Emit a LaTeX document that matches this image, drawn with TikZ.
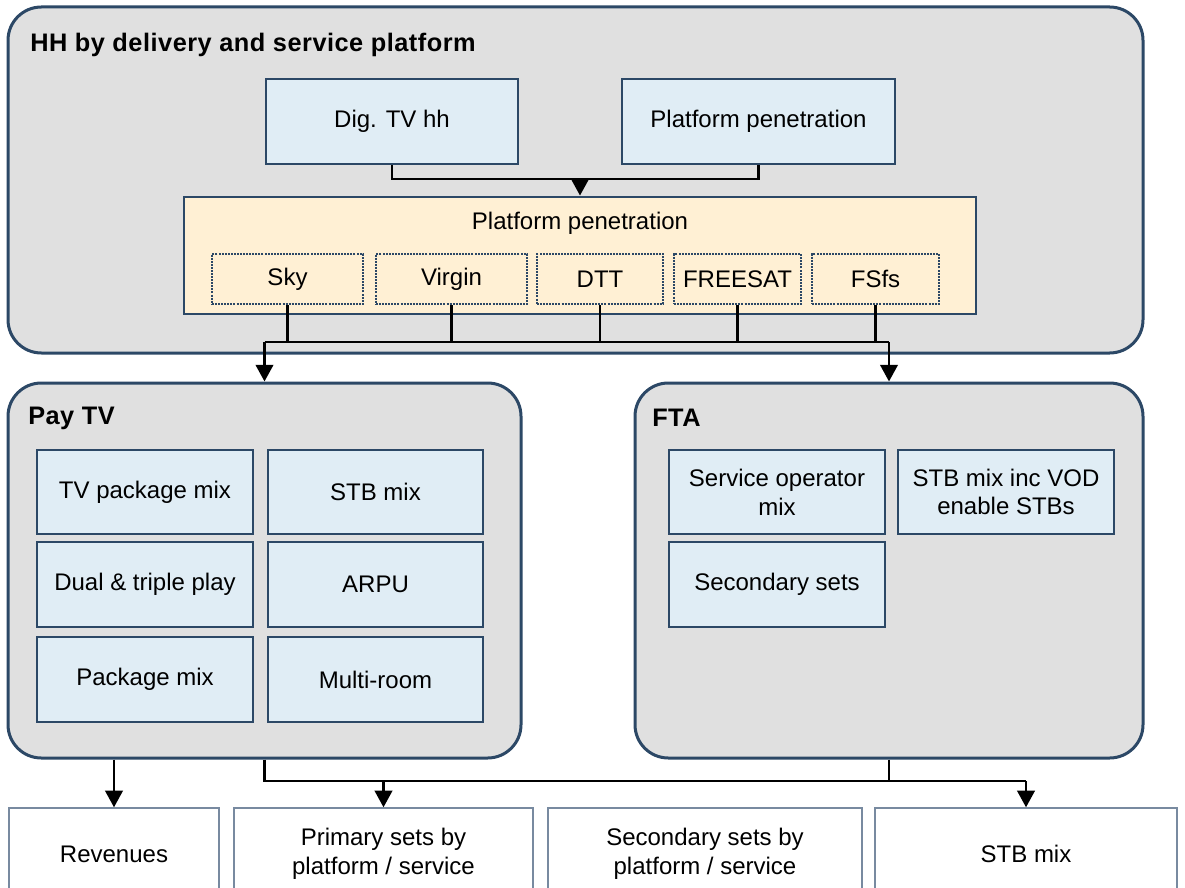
\documentclass[tikz,border=0pt]{standalone}
\usepackage{fontspec}
\setmainfont{Liberation Sans}
\usetikzlibrary{arrows.meta}

\definecolor{panelgray}{RGB}{224,224,224}
\definecolor{edgeblue}{RGB}{44,72,102}
\definecolor{cellblue}{RGB}{224,237,245}
\definecolor{cellpeach}{RGB}{255,240,212}
\definecolor{outgray}{RGB}{120,138,160}

\newcommand\diagbody{\fontsize{18}{21.5}\selectfont}
\newcommand\diaghead{\fontsize{19}{22}\selectfont\bfseries\addfontfeatures{LetterSpace=2}}

\begin{document}
\begin{tikzpicture}[x=0.75pt,y=-0.75pt,
  % a box given by its corners (x1,y1,x2,y2) in pixel units
  span/.style n args={4}{at={({(#1+#3)/2},{(#2+#4)/2})},
    minimum width={(#3-#1)*0.75pt}, minimum height={(#4-#2)*0.75pt}},
  panel/.style={draw=edgeblue, line width=2.25pt, fill=panelgray,
    rounded corners=25pt, inner sep=0pt},
  paneltitle/.style={anchor=west, inner sep=0pt, font=\diaghead},
  cell/.style={draw=edgeblue, line width=2.1pt, fill=cellblue,
    inner sep=0pt, align=center, font=\diagbody},
  peachbox/.style={draw=edgeblue, line width=2.1pt, fill=cellpeach, inner sep=0pt},
  platbox/.style={draw=edgeblue, line width=1.5pt, dash pattern=on 1.5pt off 0.8pt,
    inner sep=0pt, align=center, font=\diagbody},
  outbox/.style={draw=outgray, line width=1pt, fill=white,
    inner sep=0pt, align=center, font=\diagbody},
  link/.style={draw=black, line width=2.2pt},
  arrowlink/.style={link, -{Triangle[width=13pt,length=12.5pt]}},
]
\useasboundingbox (0,0) rectangle (1185,888);

% --- household panel -------------------------------------------------
\node[panel, span={8}{7}{1143}{353}] (hh) {};
\node[paneltitle] (hhtitle) at (30,45) {HH by delivery and service platform};

\node[cell, span={266}{79}{518}{164}] (dig) {Dig. TV hh};
\node[cell, span={622}{79}{895}{164}] (pen) {Platform penetration};

\node[peachbox, span={184}{197}{976}{314}] (plat) {};
\node[inner sep=0pt, font=\diagbody] (plattitle) at (580,223) {Platform penetration};

\node[platbox, span={212}{254}{363}{304}] (sky) {Sky};
\node[platbox, span={376}{254}{527}{304}] (virgin) {Virgin};
\node[platbox, span={537}{254}{663}{304}] (dtt) {DTT};
\node[platbox, span={674}{254}{801}{304}] (freesat) {FREESAT};
\node[platbox, span={812}{254}{939}{304}] (fsfs) {FSfs};

% --- pay TV panel ------------------------------------------------------
\node[panel, span={8}{383}{521}{758}] (pay) {};
\node[paneltitle] (paytitle) at (28,418) {Pay TV};

\node[cell, span={37}{450}{253}{534}] (pkgmix) {TV package mix};
\node[cell, span={268}{450}{483}{534}] (stbmix) {STB mix};
\node[cell, span={37}{542}{253}{627}] (dual) {Dual \& triple play};
\node[cell, span={268}{542}{483}{627}] (arpu) {ARPU};
\node[cell, span={37}{637}{253}{722}] (package) {Package mix};
\node[cell, span={268}{637}{483}{722}] (multi) {Multi-room};

% --- free-to-air panel ---------------------------------------------------
\node[panel, span={635}{383}{1143}{758}] (fta) {};
\node[paneltitle] (ftatitle) at (652,418) {FTA};

\node[cell, span={669}{450}{885}{534}] (svcop) {Service operator\\mix};
\node[cell, span={898}{450}{1114}{534}] (stbvod) {STB mix inc VOD\\enable STBs};
\node[cell, span={669}{542}{885}{627}] (secsets) {Secondary sets};

% --- outputs -------------------------------------------------------------
\node[outbox, span={9}{808}{219}{900}] (rev) {Revenues};
\node[outbox, span={234}{808}{533}{900}] (prim) {Primary sets by\\platform / service};
\node[outbox, span={548}{808}{862}{900}] (sec) {Secondary sets by\\platform / service};
\node[outbox, span={875}{808}{1177}{900}] (stbout) {STB mix};

% --- connectors ----------------------------------------------------------
\coordinate (topjoin) at (580,179);
\draw[link] (dig.south) |- (topjoin) -| (pen.south);
\draw[arrowlink] (topjoin) -- (plat.north);

\coordinate (busL) at (264.5,342);
\coordinate (busR) at (889,342);
\draw[link] (busL) -- (busR);
\foreach \p in {sky,virgin,dtt,freesat,fsfs}
  \draw[link] (\p.south) -- (\p.south |- busL);
\draw[arrowlink] (busL) -- (pay.north);
\draw[arrowlink] (busR) -- (fta.north);

\draw[arrowlink] (rev.north |- pay.south) -- (rev.north);
\coordinate (lowbus) at (0,781);
\draw[link] (pay.south) -- (pay.south |- lowbus) -- (stbout.north |- lowbus);
\draw[link] (fta.south) -- (fta.south |- lowbus);
\draw[arrowlink] (prim.north |- lowbus) -- (prim.north);
\draw[arrowlink] (stbout.north |- lowbus) -- (stbout.north);
\end{tikzpicture}
\end{document}
